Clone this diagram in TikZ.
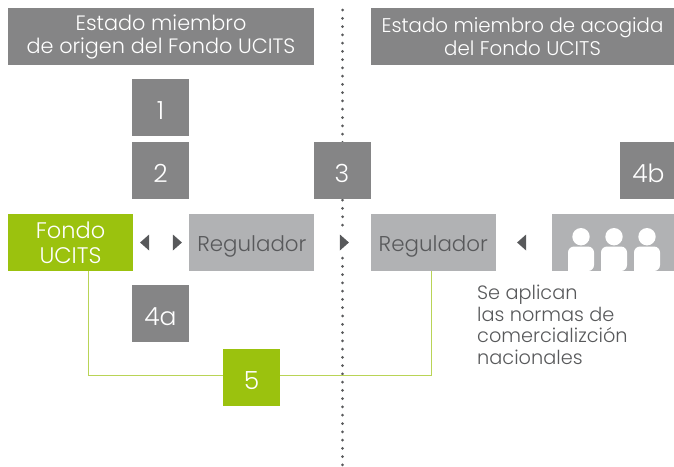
\documentclass[tikz,border=0pt]{standalone}
\usepackage{fontspec}
\setmainfont{Poppins Light}
\usepackage{xcolor}
\usetikzlibrary{positioning,shapes.geometric}
\definecolor{ucitsgreen}{HTML}{9BC20E}
\definecolor{boxgray}{HTML}{858586}
\definecolor{lightgray}{HTML}{B1B2B4}
\definecolor{textgray}{HTML}{58595B}

\begin{document}
\begin{tikzpicture}[x=1pt,y=-1pt,
                    head box/.style={rectangle, fill=boxgray, text=white, minimum height=57pt, inner sep=0pt, align=center, font=\fontsize{20.8}{23}\selectfont},
                    num box/.style={rectangle, fill=boxgray, text=white, minimum width=57pt, minimum height=57pt, inner sep=0pt, text height=23pt, text depth=0pt, font=\fontsize{25}{28}\selectfont},
                    green box/.style={num box, fill=ucitsgreen},
                    reg box/.style={rectangle, fill=lightgray, text=textgray, minimum width=125pt, minimum height=57pt, inner sep=0pt, align=center, font=\fontsize{21.4}{24.5}\selectfont},
                    reg text/.style={reg box, text height=22pt, text depth=5pt},
                    tri left/.style={isosceles triangle, isosceles triangle stretches, shape border rotate=180, fill=textgray, inner sep=0pt, minimum width=16pt, minimum height=9pt},
                    tri right/.style={tri left, shape border rotate=0},
                    link line/.style={draw=ucitsgreen!70!white, line width=1pt}]

    \useasboundingbox (0,0) rectangle (674,466);

    % dotted divider
    \coordinate (top) at (342.5,10);
    \coordinate (bottom) at (342.5,466);
    \draw [textgray, line width=3pt, line cap=round, dash pattern=on 0pt off 8.27pt] (top) -- (bottom);

    % headers
    \node [head box, minimum width=306pt] (origen) at (161,36.5) {Estado miembro\\de origen del Fondo UCITS};
    \node [head box, minimum width=303pt, font=\fontsize{19.8}{23}\selectfont] (acogida) at (522.5,36.5) {Estado miembro de acogida\\del Fondo UCITS};

    % left side
    \node [num box] (uno) at (160.5,107.5) {1};
    \node [num box, below=6pt of uno] (dos) {2};
    \node [reg box, fill=ucitsgreen, text=white, font=\fontsize{22.5}{24.5}\selectfont] (fondo) at (70.5,242.5) {Fondo\\UCITS};
    \node [reg text, right=56pt of fondo] (regA) {Regulador};
    \node [num box] (cuatroa) at (160.5,313.5) {4a};
    \node [green box] (cinco) at (251.5,377.5) {5};

    % right side
    \node [num box] (tres) at (342,170.5) {3};
    \node [reg text, right=56pt of regA] (regB) {Regulador};
    \node [num box] (cuatrob) at (648.5,170.5) {4b};
    \node [reg box, right=56pt of regB, minimum width=122pt, text=white] (gente) {};
    \node [below right=14pt and -19pt of regB, text=textgray, align=left, inner sep=0pt, font=\fontsize{19.3}{21.4}\selectfont] (normas) {Se aplican\\las normas de\\comercializción\\nacionales};

    % people
    \foreach \px in {581,614,647} {
        \fill [white] (\px,236.7) circle (8.7pt);
        \fill [white, rounded corners=6pt] (\px-13,271) -- (\px-13,246.5) -- (\px+13,246.5) -- (\px+13,271) [sharp corners] -- cycle;
    }

    % arrows
    \node [tri left] (t1) at (145.5,242.5) {};
    \node [tri right] (t2) at (176.5,242.5) {};
    \node [fill=white, inner sep=0pt, minimum width=12pt, minimum height=22pt] (t3bg) at (343.5,242.5) {};
    \node [tri right] (t3) at (343.5,242.5) {};
    \node [tri left] (t4) at (522.5,242.5) {};

    % link through 5
    \draw [link line] ([xshift=18pt]fondo.south) |- ([yshift=2pt]cinco.west);
    \draw [link line] ([yshift=2pt]cinco.east) -| ([xshift=-2pt]regB.south);

\end{tikzpicture}
\end{document}
